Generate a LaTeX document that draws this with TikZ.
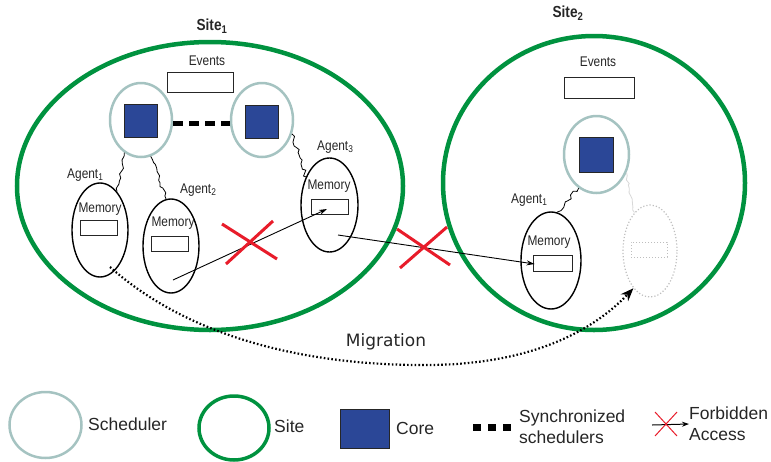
\documentclass[tikz,border=0pt]{standalone}
\usepackage{fontspec}
\setmainfont{Liberation Sans}
\newfontfamily\narrowf{Liberation Sans}[FakeStretch=0.85]
\newfontfamily\dejavuf{DejaVu Sans}
\usetikzlibrary{shapes.geometric,arrows.meta,decorations.pathmorphing}
\definecolor{sitegreen}{RGB}{0,146,63}
\definecolor{schedgray}{RGB}{165,195,193}
\definecolor{coreblue}{RGB}{43,71,151}
\definecolor{xred}{RGB}{232,28,42}
\definecolor{ghostgray}{RGB}{190,190,190}
\begin{document}
\begin{tikzpicture}[x=1pt,y=-1pt,
  site/.style={draw=sitegreen,line width=4.5pt,ellipse,inner sep=0pt},
  sched/.style={draw=schedgray,line width=2.5pt,ellipse,inner sep=0pt},
  core/.style={draw=black!85,fill=coreblue,line width=0.8pt,inner sep=0pt},
  agent/.style={draw=black,line width=1.4pt,ellipse,inner sep=0pt,minimum width=56pt,minimum height=94pt},
  ghost/.style={draw=ghostgray,line width=1.2pt,dotted,ellipse,inner sep=0pt},
  memrect/.style={draw=black!85,line width=0.9pt,inner sep=0pt,minimum width=37pt,minimum height=15pt},
  evrect/.style={draw=black!85,line width=0.9pt,inner sep=0pt,minimum height=20pt},
  lbl/.style={font=\narrowf\fontsize{14}{16}\selectfont,inner sep=0pt,text=black!85},
  sitelbl/.style={font=\narrowf\bfseries\fontsize{16}{18}\selectfont,inner sep=0pt,text=black!85},
  leg/.style={font=\fontsize{17.5}{21}\selectfont,inner sep=0pt,align=left,text=black!85},
  squig/.style={decorate,decoration={random steps,segment length=3.5pt,amplitude=2pt},line width=0.8pt},
  sync/.style={line width=5pt,dash pattern=on 10pt off 6pt},
  acc/.style={line width=0.9pt,-{Stealth[length=8pt,width=5pt]}},
  xline/.style={draw=xred,line width=3pt},
  migr/.style={line width=2.2pt,dash pattern=on 1.6pt off 2.2pt,-{Stealth[length=13pt,width=10pt]}}
]
\useasboundingbox (0,0) rectangle (771,461);
\pgfmathsetseed{7}

% ---------- Site 1 ----------
\node[site,minimum width=386pt,minimum height=288pt] (site1) at (210,186) {};
\node[sitelbl] (site1l) at (212,26) {Site\textsubscript{1}};
\node[lbl] (ev1l) at (207,61) {Events};
\node[evrect,minimum width=66pt] (ev1) at (200,82) {};
\node[sched,minimum width=62pt,minimum height=74pt] (sch1) at (141,120) {};
\node[core,minimum width=33pt,minimum height=33pt] (core1) at (140.5,120.5) {};
\node[sched,minimum width=62pt,minimum height=74pt] (sch2) at (262,120) {};
\node[core,minimum width=33pt,minimum height=33pt] (core2) at (261.5,121.5) {};
\draw[sync] ([yshift=-3pt]sch1.east) -- ([yshift=-3pt]sch2.west);

% agents site 1
\node[agent] (a1) at (100,230) {};
\node[lbl,anchor=west] (a1l) at (67,175) {Agent\textsubscript{1}};
\node[lbl] (a1m) at (100,209) {Memory};
\node[memrect] (m1) at (99,227.5) {};

\node[agent] (a2) at (171,246) {};
\node[lbl,anchor=west] (a2l) at (180,190) {Agent\textsubscript{2}};
\node[lbl] (a2m) at (173,223) {Memory};
\node[memrect] (m2) at (169.5,243.5) {};

\node[agent,minimum width=57pt] (a3) at (329.5,205) {};
\node[lbl,anchor=west] (a3l) at (317,147) {Agent\textsubscript{3}};
\node[lbl] (a3m) at (329,186) {Memory};
\node[memrect] (m3) at (330,206.5) {};

\draw[squig] (sch1.243) -- (a1.66);
\draw[squig] (sch1.285) -- (a2.96);
\draw[squig] (sch2.335) -- (a3.130);

% ---------- Site 2 ----------
\node[site,minimum width=302pt,minimum height=294pt] (site2) at (594,183) {};
\node[sitelbl] (site2l) at (568,13) {Site\textsubscript{2}};
\node[lbl] (ev2l) at (598,62) {Events};
\node[evrect,minimum width=70pt,minimum height=21pt] (ev2) at (599,88) {};
\node[sched,minimum width=65pt,minimum height=77pt] (sch3) at (596.5,154.5) {};
\node[core,minimum width=34pt,minimum height=35pt] (core3) at (596,154.5) {};

\node[agent,minimum width=60pt,minimum height=97pt] (a4) at (551,260.5) {};
\node[lbl,anchor=west] (a4l) at (511,200) {Agent\textsubscript{1}};
\node[lbl] (a4m) at (549,242) {Memory};
\node[memrect,minimum width=39pt,minimum height=16pt] (m4) at (552.5,263) {};

\node[ghost,minimum width=54pt,minimum height=92pt] (gh) at (650,251) {};
\node[draw=ghostgray,line width=1pt,dotted,inner sep=0pt,minimum width=36pt,minimum height=15pt] (ghm) at (649,249.5) {};

\draw[squig] (sch3.242) -- (a4.83);
\draw[squig,draw=ghostgray!60] (sch3.329) -- (gh.112);

% ---------- accesses ----------
\coordinate (acc1s) at (173,280);
\coordinate (acc1e) at (327,209);
\draw[acc] (acc1s) -- (acc1e);
\coordinate (acc2s) at (338,235);
\draw[acc] (acc2s) -- ([xshift=2pt,yshift=-1pt]m4.west);

\draw[xline] (222,224) -- (277,259);
\draw[xline] (226,264) -- (273,221);
\draw[xline] (397,229) -- (450,265);
\draw[xline] (400,268) -- (447,227);

% ---------- migration ----------
\coordinate (mstart) at (110,267);
\draw[migr] (mstart) .. controls (200,347) and (330,366) .. (430,365)
  .. controls (530,364) and (592,332) .. (gh.246);
\node[font=\dejavuf\fontsize{17}{20}\selectfont,inner sep=0pt,text=black!85] (migl) at (386,342) {Migration};

% ---------- legend ----------
\node[sched,minimum width=72pt,minimum height=66pt] (lsch) at (45.5,425) {};
\node[leg,anchor=west] (lschl) at (88,424) {Scheduler};
\node[site,line width=3.5pt,minimum width=70pt,minimum height=64pt] (lsite) at (234,428) {};
\node[leg,anchor=west] (lsitel) at (274,426) {Site};
\node[core,minimum width=49pt,minimum height=39pt] (lcore) at (364.5,428.5) {};
\node[leg,anchor=west] (lcorel) at (396,428) {Core};
\coordinate (lsyncs) at (473,427);
\node[leg,anchor=west] (lsyncl) at (519,427) {Synchronized\\schedulers};
\draw[line width=7pt,dash pattern=on 8pt off 7pt] (lsyncs) -- ++(39,0);
\node[leg,anchor=west] (lforbl) at (689,424) {Forbidden\\Access};
\coordinate (lforbs) at (652,425);
\draw[line width=1pt,-{Stealth[length=7pt,width=5pt]}] (lforbs) -- (lforbl.west);
\draw[xred,line width=1pt] (655,412) -- (677,436);
\draw[xred,line width=1pt] (655,436) -- (677,412);
\end{tikzpicture}
\end{document}
